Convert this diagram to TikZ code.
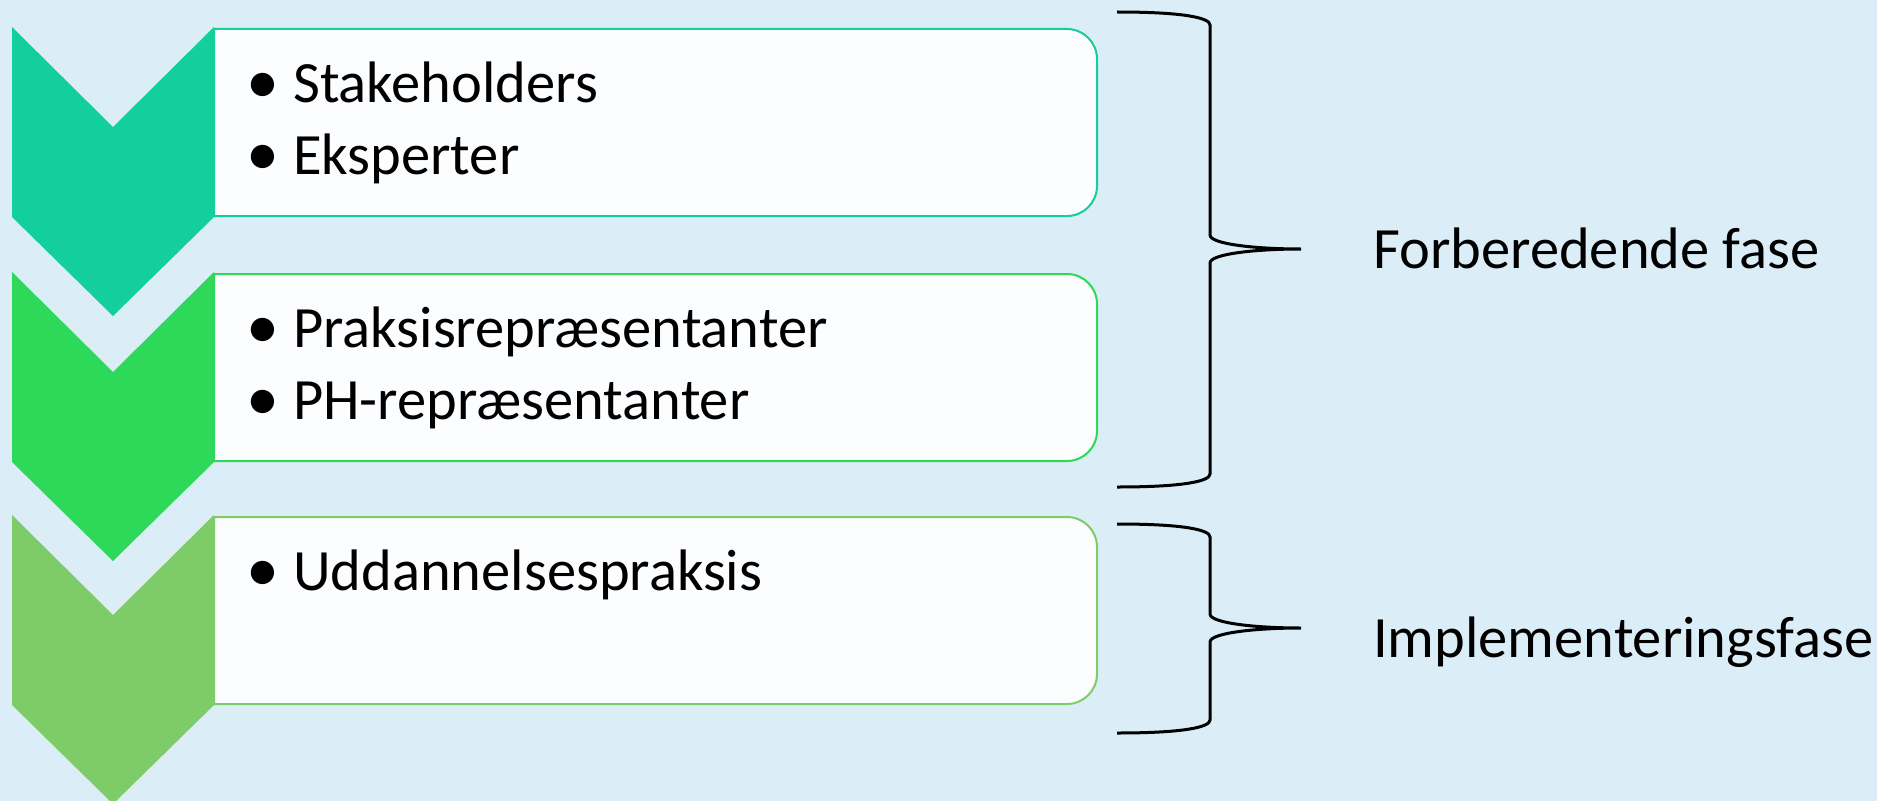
\documentclass[tikz,border=0pt]{standalone}
\usepackage{fontspec}
\setmainfont{Carlito}
\definecolor{bg}{RGB}{219,238,247}
\definecolor{cardfill}{RGB}{252,253,255}
\definecolor{cA}{RGB}{18,207,155}
\definecolor{cB}{RGB}{46,216,88}
\definecolor{cC}{RGB}{125,204,103}
\tikzset{
  chev/.style={fill=#1, draw=none},
  card/.style={fill=cardfill, draw=#1, line width=2bp},
  brace/.style={draw=black, line width=3bp},
  itemtext/.style={anchor=base west, inner sep=0pt, font=\fontsize{58.5bp}{70bp}\selectfont},
  bul/.style={anchor=base, inner sep=0pt, font=\fontsize{66bp}{70bp}\selectfont},
  phase/.style={anchor=base west, inner sep=0pt, font=\fontsize{58.5bp}{70bp}\selectfont}
}
\begin{document}
\begin{tikzpicture}[x=1bp,y=-1bp]
\useasboundingbox (0,0) rectangle (1877,801);
\fill[bg] (0,0) rectangle (1877,801);
% cards
\foreach \t/\c in {29/cA,274/cB,517/cC}{
  \path[card=\c] (214,\t) -- (1067,\t) arc[start angle=90,end angle=0,radius=30bp]
    -- (1097,\t+157) arc[start angle=0,end angle=-90,radius=30bp] -- (214,\t+187) -- cycle;
}
% chevrons
\foreach \t/\c in {27/cA,272/cB,515/cC}{
  \path[chev=\c] (12,\t) -- (113,\t+100) -- (214,\t) -- (214,\t+190) -- (113,\t+289) -- (12,\t+190) -- cycle;
}
% items
\node[bul] (b1) at (263,103) {•};
\node[itemtext] (i1) at (293,102) {Stakeholders};
\node[bul] (b2) at (263,175) {•};
\node[itemtext] (i2) at (293,174) {Eksperter};
\node[bul] (b3) at (263,348) {•};
\node[itemtext] (i3) at (293,347) {Praksisrepræsentanter};
\node[bul] (b4) at (263,420) {•};
\node[itemtext] (i4) at (293,419) {PH-repræsentanter};
\node[bul] (b5) at (263,591) {•};
\node[itemtext] (i5) at (293,590) {Uddannelsespraksis};
% braces
\coordinate (t1) at (1117,12);
\coordinate (m1) at (1301,249);
\coordinate (e1) at (1117,487);
\draw[brace] (t1) .. controls (1185,12) and (1210,18) .. (1210,25) -- (1210,235)
  .. controls (1210,244) and (1255,249) .. (m1)
  .. controls (1255,249) and (1210,254) .. (1210,263) -- (1210,474)
  .. controls (1210,481) and (1185,487) .. (e1);
\coordinate (t2) at (1117,524);
\coordinate (m2) at (1301,628);
\coordinate (e2) at (1117,733);
\draw[brace] (t2) .. controls (1185,524) and (1210,530) .. (1210,537) -- (1210,614)
  .. controls (1210,623) and (1255,628) .. (m2)
  .. controls (1255,628) and (1210,633) .. (1210,642) -- (1210,720)
  .. controls (1210,727) and (1185,733) .. (e2);
\node[phase] (p1) at (1373,268) {Forberedende fase};
\node[phase] (p2) at (1373,657) {Implementeringsfase};
\end{tikzpicture}
\end{document}
